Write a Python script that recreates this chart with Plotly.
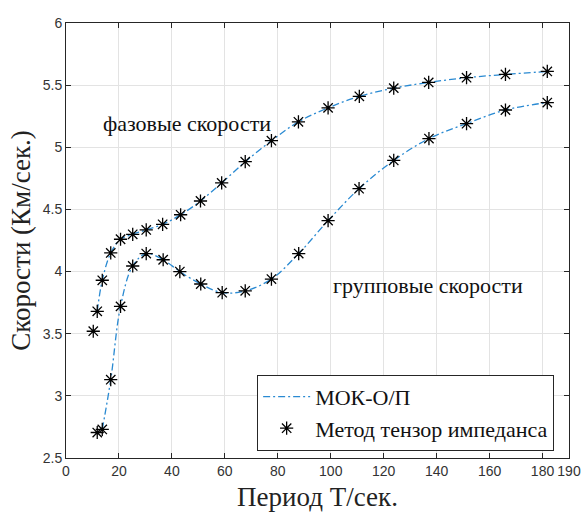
import plotly.graph_objects as go

# Data
period_phase = [10.3, 11.8, 13.7, 16.9, 20.6, 25.2, 30.3, 36.5, 43.3, 50.8, 58.8, 67.7,
                77.6, 87.8, 99.0, 110.8, 123.8, 137.0, 151.3, 166.0, 181.8]
phase_vel = [3.52, 3.68, 3.93, 4.15, 4.26, 4.30, 4.335, 4.38, 4.457, 4.568, 4.713, 4.884,
             5.053, 5.205, 5.317, 5.41, 5.476, 5.522, 5.56, 5.586, 5.61]

period_group = [11.8, 13.7, 16.9, 20.6, 25.2, 30.3, 36.7, 43.0, 50.9, 59.0, 67.7,
                77.6, 87.9, 99.0, 110.7, 123.8, 137.1, 151.3, 166.0, 181.8]
group_vel = [2.705, 2.73, 3.13, 3.72, 4.045, 4.145, 4.095, 4.00, 3.90, 3.83, 3.845,
             3.94, 4.145, 4.41, 4.667, 4.894, 5.07, 5.19, 5.30, 5.36]

x_ticks = [0, 20, 40, 60, 80, 100, 120, 140, 160, 180, 190]
y_ticks = [2.5, 3, 3.5, 4, 4.5, 5, 5.5, 6]

LINE_COLOR = "#2a8ad2"
SERIF = "Liberation Serif"
SANS = "Liberation Sans"

fig = go.Figure()

fig.add_trace(go.Scatter(
    x=period_phase[1:], y=phase_vel[1:], mode="lines", name="МОК-О/П",
    line=dict(color=LINE_COLOR, width=1.3, dash="7px,3px,2px,3px", shape="spline"),
    showlegend=True))
fig.add_trace(go.Scatter(
    x=period_group[1:], y=group_vel[1:], mode="lines", name="МОК-О/П",
    line=dict(color=LINE_COLOR, width=1.3, dash="7px,3px,2px,3px", shape="spline"),
    showlegend=False))
fig.add_trace(go.Scatter(
    x=period_phase, y=phase_vel, mode="markers", name="Метод тензор импеданса",
    marker=dict(symbol="asterisk-open", size=11, color="black",
                line=dict(color="black", width=1.3)),
    showlegend=True))
fig.add_trace(go.Scatter(
    x=period_group, y=group_vel, mode="markers", name="Метод тензор импеданса",
    marker=dict(symbol="asterisk-open", size=11, color="black",
                line=dict(color="black", width=1.3)),
    showlegend=False))

fig.add_annotation(x=45.8, y=5.19, text="фазовые скорости", showarrow=False,
                   font=dict(family=SERIF, size=22, color="#111111"))
fig.add_annotation(x=136.7, y=3.89, text="групповые скорости", showarrow=False,
                   font=dict(family=SERIF, size=22, color="#111111"))

axis_common = dict(
    showline=True, linecolor="#262626", linewidth=1, mirror="allticks",
    ticks="inside", ticklen=5, tickcolor="#262626",
    showgrid=True, gridcolor="#e3e3e3", gridwidth=1, zeroline=False,
    tickfont=dict(family=SANS, size=14, color="#333333"),
    automargin=False,
)

fig.update_xaxes(range=[0, 190], tickvals=x_ticks, ticktext=[str(v) for v in x_ticks],
                 title=dict(text="Период T/сек.", font=dict(family=SERIF, size=27, color="#222222"),
                            standoff=9),
                 **axis_common)
fig.update_yaxes(range=[2.5, 6], tickvals=y_ticks, ticktext=[f"{v:g}" for v in y_ticks],
                 title=dict(text="Скорости (Км/сек.)", font=dict(family=SERIF, size=27, color="#222222"),
                            standoff=4),
                 **axis_common)

fig.update_layout(
    width=583, height=514,
    margin=dict(l=66, r=14, t=23, b=56),
    plot_bgcolor="white", paper_bgcolor="white",
    legend=dict(x=0.38, y=0.104, xanchor="left", yanchor="middle",
                bgcolor="white", bordercolor="#262626", borderwidth=1,
                font=dict(family=SERIF, size=22, color="#111111"),
                itemwidth=47, tracegroupgap=0),
)

fig.write_html("out.html")
